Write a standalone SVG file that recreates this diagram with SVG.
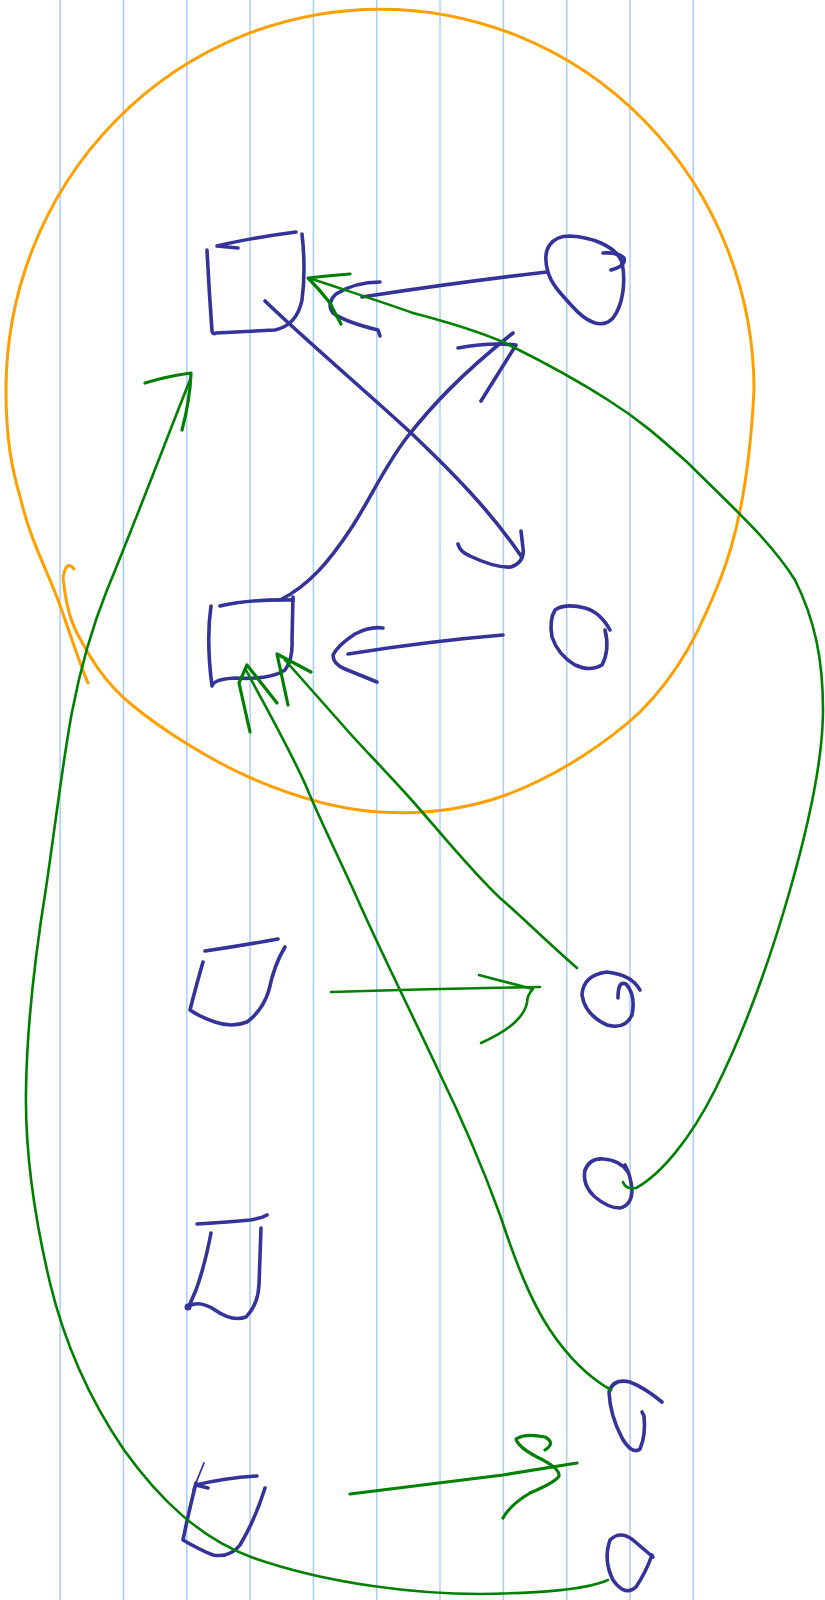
<svg xmlns="http://www.w3.org/2000/svg" width="825" height="1600" viewBox="0 0 825 1600">
<style>
.grid line{stroke:#a8cdfa;stroke-width:1.5}
.o{fill:none;stroke:#ffa000;stroke-width:3;stroke-linecap:round;stroke-linejoin:round}
.b{fill:none;stroke:#333399;stroke-width:3.6;stroke-linecap:round;stroke-linejoin:round}
.g{fill:none;stroke:#008000;stroke-width:2.6;stroke-linecap:round;stroke-linejoin:round}
.gh{fill:none;stroke:#008000;stroke-width:3.2;stroke-linecap:round;stroke-linejoin:round}
</style>
<rect width="825" height="1600" fill="#ffffff"/>
<g class="grid">
<line x1="60.1" y1="0" x2="60.1" y2="1600"/>
<line x1="123.4" y1="0" x2="123.4" y2="1600"/>
<line x1="186.8" y1="0" x2="186.8" y2="1600"/>
<line x1="250.1" y1="0" x2="250.1" y2="1600"/>
<line x1="313.4" y1="0" x2="313.4" y2="1600"/>
<line x1="376.7" y1="0" x2="376.7" y2="1600"/>
<line x1="440" y1="0" x2="440" y2="1600"/>
<line x1="503.4" y1="0" x2="503.4" y2="1600"/>
<line x1="566.7" y1="0" x2="566.7" y2="1600"/>
<line x1="630" y1="0" x2="630" y2="1600"/>
<line x1="693.3" y1="0" x2="693.3" y2="1600"/>
</g>
<g id="boundary">
<path class="o" d="M 74,569 Q 66,559 63,578 C 64.7,590 66.5,613.8 78,635 C 89.5,656.2 103.2,681.2 132,705 C 160.8,728.8 209.8,760.2 251,778 C 292.2,795.8 336.5,809.2 379,812 C 421.5,814.8 463.5,810.3 506,795 C 560,775 610,740 640,712 C 680,672 700,630 720,580 C 738,535 750,470 754,390 A 374 381 0 0 0 6,390 C 6,440 12,470 21,500 C 29.8,538.8 46.8,569.5 58,600 C 69.2,630.5 80,665 88,683"/>
</g>
<g id="square1">
<path class="b" d="M 238,248 L 217,246 Q 250,238 296,232"/>
<path class="b" d="M 207,250 Q 209,290 212,331 Q 213,335 216,333 L 275,330 Q 297,325 302,300 Q 306,270 302,234"/>
</g>
<g id="square2">
<path class="b" d="M 220,606 Q 250,599 293,600"/>
<path class="b" d="M 211,606 Q 206,640 212,686 Q 214,679 235,678 Q 270,680 285,670 Q 293,660 292,640 L 293,597"/>
</g>
<g id="square3">
<path class="b" d="M 205,951 Q 240,946 278,939"/>
<path class="b" d="M 203,962 Q 195,990 190,1010 Q 200,1017 215,1022 Q 232,1028 247,1022 Q 263,1010 269,990 Q 274,965 285,947"/>
</g>
<g id="square4">
<path class="b" d="M 197,1224 Q 230,1222 250,1220 Q 262,1218 267,1215"/>
<path class="b" d="M 211,1233 Q 205,1265 196,1290 L 189,1306 Q 200,1300 215,1310 Q 232,1322 246,1317 Q 258,1305 259,1285 L 261,1228"/>
<circle cx="188" cy="1307" r="3.5" fill="#333399"/>
</g>
<g id="square5">
<path class="b" d="M 204,1463 L 193,1490" style="stroke-width:1.8"/>
<path class="b" d="M 208,1488 L 196,1485 Q 225,1478 257,1476"/>
<path class="b" d="M 196,1483 Q 188,1515 183,1540 Q 200,1550 213,1555 Q 230,1558 240,1545 Q 255,1520 265,1488"/>
</g>
<g id="circle1">
<path class="b" d="M 548,272 C 541,248 552,236 570,236 C 590,237 615,245 622,262 C 626,282 623,305 613,318 C 602,330 586,322 572,306 C 559,292 551,283 548,272"/>
<path class="b" d="M 603,253 Q 618,252 624,258 Q 626,266 611,270"/>
</g>
<g id="circle2">
<path class="b" d="M 610,630 Q 600,612 585,608 Q 565,603 555,610 Q 549,620 552,637 Q 558,655 575,665 Q 590,672 602,665 Q 610,650 605,630"/>
</g>
<g id="circle3">
<path class="b" d="M 640,990 Q 632,975 607,972 Q 583,975 582,995 Q 585,1015 607,1025 Q 625,1030 632,1015 Q 636,995 626,984 Q 618,980 618,998"/>
</g>
<g id="circle4">
<path class="b" d="M 628,1172 Q 620,1160 603,1159 Q 590,1158 585,1170 Q 582,1185 595,1197 Q 608,1208 620,1208 Q 632,1205 632,1190 Q 631,1176 625,1165"/>
</g>
<g id="circle5">
<path class="b" d="M 662,1402 Q 645,1388 630,1382 Q 613,1378 609,1392 Q 610,1415 622,1438 Q 632,1455 640,1449 Q 646,1435 644,1416 L 642,1412"/>
</g>
<g id="circle6">
<path class="b" d="M 653,1557 L 633,1540 Q 620,1530 610,1540 Q 603,1560 613,1580 Q 625,1597 636,1587 Q 646,1572 652,1555"/>
</g>
<g id="connectors">
<path class="b" d="M 547,272 Q 460,282 362,297 L 382,294"/>
<path class="b" d="M 380,282 Q 355,282 336,294 Q 326,303 333,313 Q 345,322 378,330 L 380,336"/>
<path class="b" d="M 265,301 C 300,335 370,395 410,432 C 450,470 490,510 521,556"/>
<path class="b" d="M 458,544 Q 460,552 470,556 Q 495,568 511,567 Q 525,562 523,548 L 521,531"/>
<path class="b" d="M 280,600 C 310,585 330,560 350,530 S 385,465 408,436 S 460,375 513,333"/>
<path class="b" d="M 458,348 Q 490,342 516,345 L 481,401"/>
<path class="b" d="M 503,635 Q 430,641 348,654"/>
<path class="b" d="M 383,628 Q 370,626 355,634 Q 338,645 333,655 Q 333,664 345,669 L 377,682"/>
<path class="g" d="M 623,1182 Q 626,1190 636,1188 C 660,1175 690,1140 715,1090 C 745,1030 770,960 790,890 C 810,820 823,760 823,710 C 823,660 815,620 795,580 C 770,540 730,505 688,463 C 660,438 640,420 608,400 C 580,382 540,360 503,342 C 470,328 440,320 413,313 C 385,303 360,295 312,279"/>
<path class="gh" d="M 350,274 Q 325,276 308,278 Q 320,290 330,303 Q 336,315 341,324"/>
<path class="g" d="M 577,968 C 545,940 520,915 500,898 C 470,870 430,820 408,796 C 380,765 360,745 347,730 L 285,660"/>
<path class="gh" d="M 311,672 L 277,654 L 288,705"/>
<path class="g" d="M 611,1390 C 590,1378 570,1360 550,1330 C 530,1300 515,1260 500,1215 C 480,1160 460,1115 439,1072 C 410,1010 380,950 357,898 C 340,860 320,820 306,786 C 290,750 270,715 246,670"/>
<path class="gh" d="M 250,732 L 239,683 L 247,665 L 277,703"/>
<path class="g" d="M 608,1580 C 585,1590 540,1593 480,1594 C 420,1594 330,1585 251,1557 C 200,1538 160,1500 124,1450 C 90,1400 65,1345 50,1283 C 35,1220 25,1150 26,1090 C 27,1020 36,950 46,888 C 56,820 63,760 72,712 C 80,670 93,625 107,590 C 130,535 170,430 190,380"/>
<path class="gh" d="M 145,383 Q 168,376 191,373 Q 190,400 182,430"/>
<path class="g" d="M 331,992 Q 430,989 540,987"/>
<path class="g" d="M 479,975 Q 505,982 533,989 Q 527,995 527,1003 Q 522,1025 481,1043"/>
<path class="gh" d="M 350,1494 Q 440,1483 503,1475 L 577,1463"/>
<path class="gh" d="M 545,1450 Q 556,1443 545,1437 Q 525,1433 516,1439 Q 518,1447 537,1457 Q 560,1468 559,1476 Q 556,1482 530,1493 Q 510,1505 503,1518"/>
</g>
</svg>
